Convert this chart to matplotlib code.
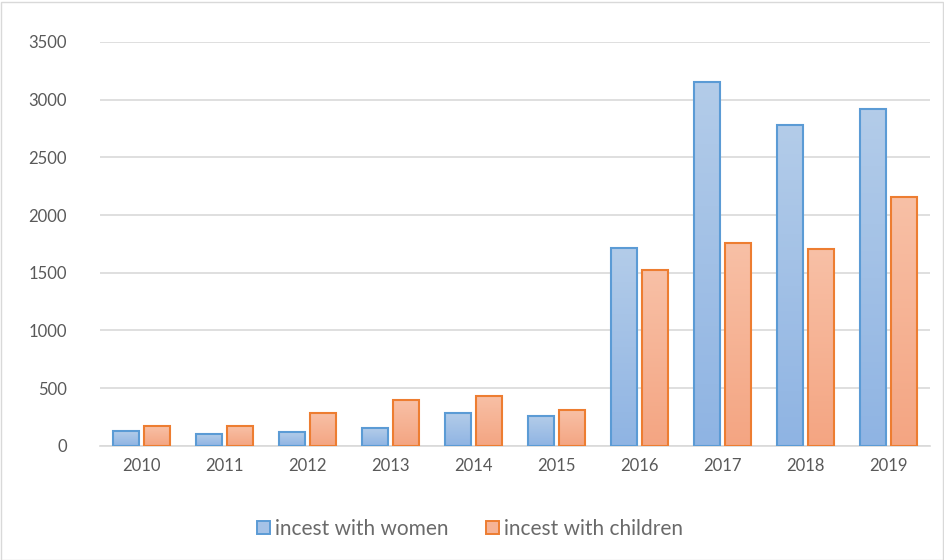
import numpy as np
import matplotlib.pyplot as plt
from matplotlib.colors import LinearSegmentedColormap
from matplotlib.patches import Rectangle

years = ['2010', '2011', '2012', '2013', '2014', '2015', '2016', '2017', '2018', '2019']
women = [124, 101, 118, 155, 282, 259, 1716, 3154, 2779, 2915]
children = [170, 172, 284, 394, 434, 310, 1522, 1754, 1702, 2155]

plt.rcParams['font.family'] = ['Lato', 'DejaVu Sans']

fig = plt.figure(figsize=(9.44, 5.6), dpi=100)
ax = fig.add_axes([100 / 944, 1 - 445.7 / 560, 830 / 944, (445.7 - 42) / 560])

x = np.arange(len(years))
width = 0.31
offset = 0.185

blue_cmap = LinearSegmentedColormap.from_list('b', ['#8fb4e3', '#b3cce9'])
orange_cmap = LinearSegmentedColormap.from_list('o', ['#f4a582', '#f8c0a6'])
grad = np.linspace(0, 1, 100).reshape(-1, 1)


def gradient_bars(xs, vals, cmap, edge):
    bars = ax.bar(xs, vals, width, facecolor='none', edgecolor=edge, linewidth=1.5, zorder=3)
    for b in bars:
        x0, y0 = b.get_x(), b.get_y()
        w, h = b.get_width(), b.get_height()
        im = ax.imshow(grad, cmap=cmap, origin='lower', aspect='auto',
                       extent=[x0, x0 + w, y0, y0 + h], zorder=2)
        im.set_clip_path(b)
    return bars


gradient_bars(x - offset, women, blue_cmap, '#5b9bd5')
gradient_bars(x + offset, children, orange_cmap, '#ed7d31')

ax.set_xlim(-0.5, len(years) - 0.5)
ax.set_ylim(0, 3500)
ax.set_yticks(range(0, 3501, 500))
ax.set_xticks(x)
ax.set_xticklabels(years)
ax.grid(axis='y', color='#d9d9d9', linewidth=1.2, zorder=0)
ax.set_axisbelow(True)
for s in ['top', 'right', 'left']:
    ax.spines[s].set_visible(False)
ax.spines['bottom'].set_color('#d9d9d9')
ax.spines['bottom'].set_linewidth(1.2)
ax.tick_params(length=0, labelsize=12, labelcolor='#595959')
ax.tick_params(axis='y', pad=24)
ax.tick_params(axis='x', pad=9)

handles = [Rectangle((0, 0), 1, 1, facecolor='#a5c2e7', edgecolor='#5b9bd5', linewidth=1.4),
           Rectangle((0, 0), 1, 1, facecolor='#f6b396', edgecolor='#ed7d31', linewidth=1.4)]
fig.legend(handles, ['incest with women', 'incest with children'], loc='center',
           bbox_to_anchor=(470 / 944, 1 - 529 / 560), ncol=2, frameon=False,
           fontsize=15, labelcolor='#6a6a6a', handlelength=0.62, handleheight=0.62,
           handletextpad=0.25, columnspacing=1.8)

fig.patches.append(Rectangle((0.5 / 944, 0.5 / 560), 942 / 944, 558 / 560, transform=fig.transFigure,
                             fill=False, edgecolor='#d9d9d9', linewidth=1))

fig.savefig('out.png', dpi=100)
